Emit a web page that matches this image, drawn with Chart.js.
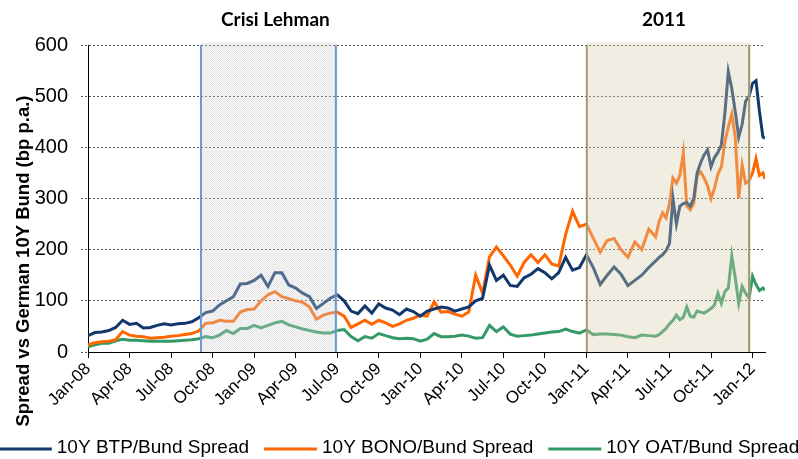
<!DOCTYPE html>
<html>
<head>
<meta charset="utf-8">
<script src="https://cdn.jsdelivr.net/npm/chart.js@4.4.1/dist/chart.umd.min.js"></script>
<style>
html,body{margin:0;padding:0;background:#fff;}
#wrap{width:798px;height:459px;}
</style>
</head>
<body>
<div id="wrap"><canvas id="c" width="798" height="459"></canvas></div>
<script>
// x positions: months since Jan-2008
const months = [
  0,0.5,1,1.5,2,2.5,3,3.5,4,4.5,
  5,5.5,6,6.5,7,7.5,8,8.5,9,9.5,
  10,10.5,11,11.5,12,12.5,13,13.5,14,14.5,
  15,15.5,16,16.5,17,17.5,18,18.5,19,19.5,
  20,20.5,21,21.5,22,22.5,23,23.5,24,24.5,
  25,25.5,26,26.5,27,27.5,28,28.5,29,29.5,
  30,30.5,31,31.5,32,32.5,33,33.5,34,34.5,
  35,35.5,36,36.5,37,37.5,38,38.5,39,39.5,
  40,40.5,41,
  41.25,41.5,41.75,42,42.25,42.5,42.75,43,43.25,43.5,
  43.75,44,44.25,44.5,44.75,45,45.25,45.5,45.75,46,
  46.25,46.5,46.75,47,47.25,47.5,47.75,48,48.25,48.5,
  48.75,48.9
];
const btpSpread = [
  32,38,39,42,48,62,54,56,47,48,
  52,55,53,55,56,59,67,77,80,92,
  100,108,133,134,140,150,128,155,155,131,
  125,115,108,85,95,105,112,100,80,75,
  90,76,94,86,82,73,84,79,70,80,
  84,88,86,80,84,88,100,105,170,140,
  150,130,128,145,152,163,155,143,155,185,
  160,165,190,165,132,150,166,152,130,140,
  150,165,178,
  185,190,198,212,300,250,285,290,292,285,
  300,350,370,385,395,362,380,390,405,466,
  548,515,470,420,445,490,500,525,530,470,
  420,418
];
const bonoSpread = [
  14,18,20,21,24,40,33,31,30,27,
  28,29,31,32,34,36,41,56,57,62,
  60,60,78,83,84,100,112,118,108,104,
  100,97,88,64,72,76,78,70,48,55,
  62,54,62,57,50,55,62,66,72,70,
  98,78,79,74,70,78,150,115,186,205,
  188,170,148,175,190,175,190,172,168,230,
  275,245,250,222,195,218,222,200,185,215,
  200,240,225,
  255,272,262,290,340,330,345,390,285,278,
  290,345,352,340,325,300,320,348,362,410,
  440,465,420,300,365,330,335,350,378,345,
  350,338
];
const oatSpread = [
  10,14,17,17,22,25,23,23,22,21,
  21,21,21,22,23,24,26,30,28,33,
  42,36,46,46,52,47,52,57,60,53,
  49,45,42,39,37,37,42,44,30,22,
  30,27,36,32,28,26,27,26,21,25,
  36,30,30,31,33,31,27,28,52,40,
  49,35,31,32,33,35,37,39,40,45,
  40,37,43,34,35,35,34,33,30,28,
  33,32,31,
  34,40,46,55,62,72,63,68,88,70,
  68,80,78,76,80,85,92,115,95,118,
  125,188,145,95,128,115,105,148,132,120,
  125,121
];
const tickLabels = ['Jan-08','Apr-08','Jul-08','Oct-08','Jan-09','Apr-09','Jul-09','Oct-09',
  'Jan-10','Apr-10','Jul-10','Oct-10','Jan-11','Apr-11','Jul-11','Oct-11','Jan-12'];
const seriesNames = ['10Y BTP/Bund Spread','10Y BONO/Bund Spread','10Y OAT/Bund Spread'];
const seriesColors = ['#12386b','#ff6600','#339966'];
const regionNames = ['Crisi Lehman','2011'];
const regionStart = [8.16, 36.03];
const regionEnd = [17.9, 47.75];
const yTitle = 'Spread vs German 10Y Bund (bp p.a.)';

const toXY = arr => months.map((m,i)=>({x:m,y:arr[i]}));
const allSeries = [btpSpread, bonoSpread, oatSpread];

function makePattern(ctx, c1, c2){
  const p = document.createElement('canvas'); p.width = 2; p.height = 2;
  const g = p.getContext('2d');
  g.fillStyle = c1; g.fillRect(0,0,1,1); g.fillRect(1,1,1,1);
  g.fillStyle = c2; g.fillRect(1,0,1,1); g.fillRect(0,1,1,1);
  return ctx.createPattern(p,'repeat');
}

const regionPlugin = {
  id:'regions',
  afterDatasetsDraw(chart){
    const {ctx, chartArea:a, scales:{x}} = chart;
    const fills = [
      makePattern(ctx,'rgba(190,190,190,0.40)','rgba(230,230,230,0.28)'),
      makePattern(ctx,'rgba(200,190,150,0.40)','rgba(235,228,205,0.32)')
    ];
    const lineCols = ['#6a98d4','#a39a72'];
    ctx.save();
    for (let i=0;i<regionNames.length;i++){
      const x0 = x.getPixelForValue(regionStart[i]);
      const x1 = x.getPixelForValue(regionEnd[i]);
      ctx.fillStyle = fills[i];
      ctx.fillRect(x0, a.top-2, x1-x0+2, a.bottom-a.top+2);
      ctx.strokeStyle = lineCols[i];
      ctx.lineWidth = 2;
      ctx.beginPath();
      ctx.moveTo(x0, a.top); ctx.lineTo(x0, a.bottom);
      ctx.moveTo(x1, a.top); ctx.lineTo(x1, a.bottom);
      ctx.stroke();
      ctx.fillStyle = '#000';
      ctx.font = 'bold 19px Lato, "Open Sans", sans-serif';
      ctx.textAlign = 'center';
      ctx.textBaseline = 'middle';
      ctx.fillText(regionNames[i], (x0+x1)/2 + (i===0?7:-4), 20);
    }
    ctx.restore();
  },
  afterDraw(chart){
    const ctx = chart.ctx;
    ctx.save();
    // y-axis title
    ctx.translate(24, 261);
    ctx.rotate(-Math.PI/2);
    ctx.font = 'bold 18.5px "Liberation Sans", Arial, sans-serif';
    ctx.fillStyle = '#000';
    ctx.textAlign = 'center';
    ctx.textBaseline = 'middle';
    ctx.fillText(yTitle, 0, 0);
    ctx.restore();
    // legend
    ctx.save();
    ctx.font = '19px "Liberation Sans", Arial, sans-serif';
    const lineLen = 53, gap = 5, itemGap = 15;
    const widths = seriesNames.map(s=>ctx.measureText(s).width);
    const total = widths.reduce((s,w)=>s+lineLen+gap+w,0) + itemGap*(seriesNames.length-1);
    let xx = (chart.width - total)/2;
    const yy = 448;
    ctx.textBaseline = 'middle';
    ctx.textAlign = 'left';
    for (let i=0;i<seriesNames.length;i++){
      ctx.strokeStyle = seriesColors[i];
      ctx.lineWidth = 3;
      ctx.beginPath(); ctx.moveTo(xx, yy+1); ctx.lineTo(xx+lineLen, yy+1); ctx.stroke();
      ctx.fillStyle = '#000';
      ctx.fillText(seriesNames[i], xx+lineLen+gap, yy);
      xx += lineLen + gap + widths[i] + itemGap;
    }
    ctx.restore();
  }
};

new Chart(document.getElementById('c'), {
  type:'line',
  data:{
    datasets: allSeries.map((arr,i)=>({
      label: seriesNames[i],
      data: toXY(arr),
      borderColor: seriesColors[i],
      backgroundColor: seriesColors[i],
      borderWidth: 3,
      pointRadius: 0,
      tension: 0,
      fill: false
    }))
  },
  options:{
    responsive:false,
    animation:false,
    devicePixelRatio:1,
    layout:{padding:{top:45,right:33,left:0,bottom:0}},
    plugins:{legend:{display:false}, tooltip:{enabled:false}, title:{display:false}},
    scales:{
      x:{
        type:'linear', min:0, max:48.9,
        afterFit(s){ s.height = 107; },
        ticks:{
          stepSize:3, includeBounds:false, autoSkip:false,
          maxRotation:45, minRotation:45, padding:1,
          color:'#000',
          font:{family:'"Liberation Sans", Arial, sans-serif', size:17},
          callback(v){ const k = Math.round(v/3); return (Math.abs(v-3*k)<1e-6 && tickLabels[k]) ? tickLabels[k] : ''; }
        },
        grid:{drawOnChartArea:false, drawTicks:true, tickLength:6, color:'#000', tickColor:'#000', lineWidth:1},
        border:{color:'#000', width:1}
      },
      y:{
        min:0, max:600,
        afterFit(s){ s.width = 88; },
        ticks:{
          stepSize:100, padding:13, color:'#000',
          font:{family:'"Liberation Sans", Arial, sans-serif', size:20}
        },
        grid:{color:'#555', lineWidth:1, tickLength:7, tickColor:'#555', tickBorderDash:[2,2]},
        border:{color:'#000', width:1, dash:[2,2]}
      }
    }
  },
  plugins:[regionPlugin]
});
</script>
</body>
</html>
